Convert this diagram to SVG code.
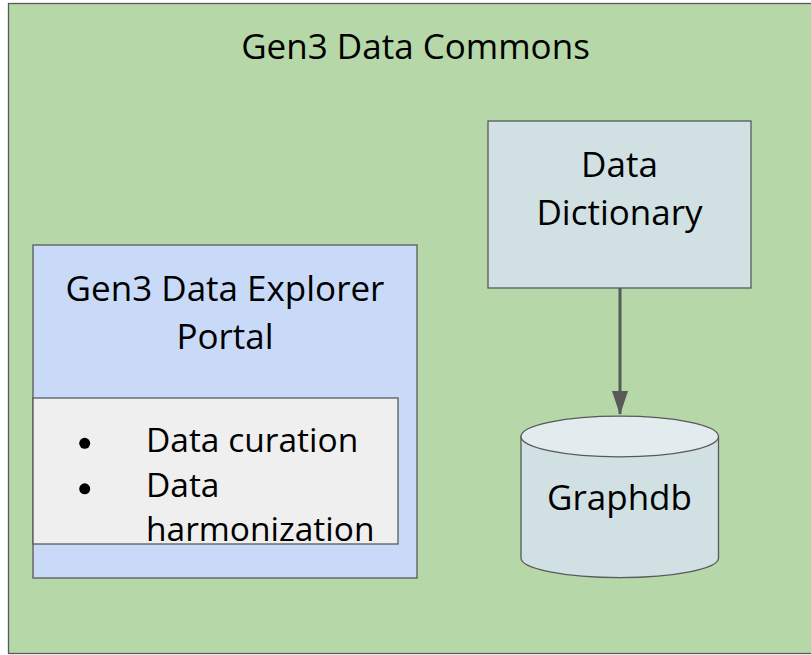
<svg xmlns="http://www.w3.org/2000/svg" width="811" height="655" viewBox="0 0 811 655">
  <defs>
    <style>
      .t { font-family: "Open Sans", "Noto Sans", "Liberation Sans", sans-serif; font-size: 35px; fill: #000000; }
      .l { font-size: 33.5px; }
      .c { text-anchor: middle; }
      .box { stroke: #595959; stroke-width: 1.3; }
      .conn { stroke: #595959; stroke-width: 3; fill: none; }
    </style>
    <marker id="arrow" viewBox="0 0 24 16" refX="23" refY="8" markerWidth="24" markerHeight="16" markerUnits="userSpaceOnUse" orient="auto">
      <path d="M0,0 L24,8 L0,16 Z" fill="#595959"/>
    </marker>
  </defs>
  <rect x="0" y="0" width="811" height="655" fill="#ffffff"/>
  <g id="gen3-data-commons">
    <rect class="box" x="8.5" y="3.5" width="815" height="650" fill="#b6d7a8"/>
    <text class="t c" x="415.5" y="59">Gen3 Data Commons</text>
  </g>
  <g id="data-explorer-portal">
    <rect class="box" x="33" y="245" width="384" height="333" fill="#c9daf8"/>
    <text class="t c" x="225" y="301">Gen3 Data Explorer</text>
    <text class="t c" x="225" y="349">Portal</text>
  </g>
  <g id="portal-features">
    <rect class="box" x="33" y="398" width="365" height="146" fill="#efefef"/>
    <circle cx="84.7" cy="443.3" r="5.5" fill="#000000"/>
    <circle cx="84.7" cy="488.8" r="5.5" fill="#000000"/>
    <text class="t l" x="146" y="451.5">Data curation</text>
    <text class="t l" x="146" y="496.5">Data</text>
    <text class="t l" x="146" y="540.5">harmonization</text>
  </g>
  <g id="data-dictionary">
    <rect class="box" x="488" y="121" width="263" height="167" fill="#d0e0e3"/>
    <text class="t c" x="619.5" y="176.5">Data</text>
    <text class="t c" x="619.5" y="225">Dictionary</text>
  </g>
  <g id="graphdb">
    <path class="box" d="M521,436.5 L521,558 A98.5,19.5 0 0 0 718.5,558 L718.5,436.5 Z" fill="#d0e0e3"/>
    <ellipse class="box" cx="619.75" cy="436.5" rx="98.75" ry="20.3" fill="#e2ebed"/>
    <text class="t c" x="619.5" y="510">Graphdb</text>
  </g>
  <g id="connectors">
    <line class="conn" x1="620" y1="288" x2="620" y2="414" marker-end="url(#arrow)"/>
  </g>
</svg>
